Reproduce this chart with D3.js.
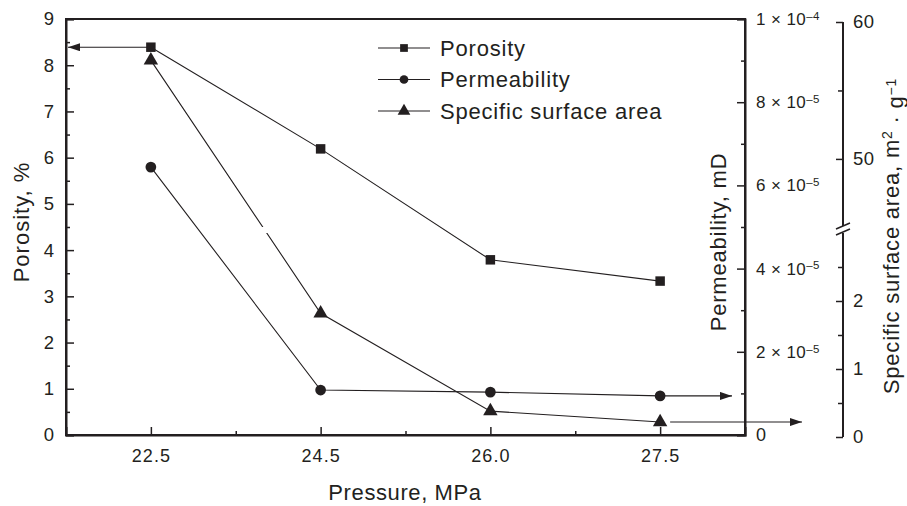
<!DOCTYPE html>
<html>
<head>
<meta charset="utf-8">
<script src="https://cdn.jsdelivr.net/npm/d3@7"></script>
<style>
  html, body { margin: 0; padding: 0; background: #fff; }
  svg { display: block; font-family: "Liberation Sans", Arial, Helvetica, sans-serif; }
</style>
</head>
<body>
<svg id="chart" width="907" height="506"></svg>
<script>
// ---------------- data ----------------
const pressures = ["22.5", "24.5", "26.0", "27.5"];
const porosity = [8.39, 6.19, 3.79, 3.33];
const permeability = [6.44e-5, 1.08e-5, 1.03e-5, 0.94e-5];
const surfaceArea = [57.2, 1.82, 0.38, 0.22];

const porosityTicks = [0, 1, 2, 3, 4, 5, 6, 7, 8, 9];
const porosityMinor = [0.5, 1.5, 2.5, 3.5, 4.5, 5.5, 6.5, 7.5, 8.5];
const permTicks = [0, 2e-5, 4e-5, 6e-5, 8e-5, 1e-4];
const permMinor = [1e-5, 3e-5, 5e-5, 7e-5, 9e-5];
const ssaLowTicks = [0, 1, 2];
const ssaLowMinor = [0.5, 1.5, 2.5];
const ssaHighTicks = [50, 60];
const ssaHighMinor = [55];
const legendLabels = ["Porosity", "Permeability", "Specific surface area"];

// ---------------- layout ----------------
const C = "#231f20";
const svg = d3.select("#chart");
const L = 66, R = 745, T = 19, B = 435;
const SSA_X = 843;

const x = d3.scaleLinear().domain([-0.5, 3.5]).range([L, R]);
const yP = d3.scaleLinear().domain([0, 9]).range([B, T]);
const yK = d3.scaleLinear().domain([0, 1e-4]).range([B, T]);
const ssaLowScale = d3.scaleLinear().domain([0, 3]).range([437, 233]);
const ssaHighScale = d3.scaleLinear().domain([45.1, 60]).range([226, 22]);
const yS = v => v >= 45.1 ? ssaHighScale(v) : ssaLowScale(v);

const defs = svg.append("defs");
defs.append("marker").attr("id", "arrow")
  .attr("viewBox", "0 0 12 8").attr("refX", 12).attr("refY", 4)
  .attr("markerWidth", 12).attr("markerHeight", 8)
  .attr("markerUnits", "userSpaceOnUse").attr("orient", "auto")
  .append("path").attr("d", "M0,0 L12,4 L0,8 Z").attr("fill", C);

// clip for SSA line break
const clip = defs.append("clipPath").attr("id", "ssaClip");
clip.append("rect").attr("x", 0).attr("y", 0).attr("width", 907).attr("height", 227);
clip.append("rect").attr("x", 0).attr("y", 233).attr("width", 907).attr("height", 300);

function styleAxis(g, fs, ls) {
  g.selectAll(".domain").attr("stroke", C).attr("stroke-width", 2);
  g.selectAll(".tick line").attr("stroke", C).attr("stroke-width", 1.5);
  g.selectAll(".tick text").attr("fill", C).attr("font-size", fs)
    .attr("letter-spacing", ls || 0)
    .attr("font-family", "Liberation Sans, Arial, sans-serif");
}

// ---------------- frame ----------------
svg.append("rect").attr("x", L).attr("y", T).attr("width", R - L).attr("height", B - T)
  .attr("fill", "none").attr("stroke", C).attr("stroke-width", 2);

// left axis
const gL = svg.append("g").attr("transform", `translate(${L},0)`)
  .call(d3.axisLeft(yP).tickValues(porosityTicks).tickSize(-8).tickPadding(12).tickFormat(d3.format("d")));
styleAxis(gL, 18.5);
const gLm = svg.append("g").attr("transform", `translate(${L},0)`)
  .call(d3.axisLeft(yP).tickValues(porosityMinor).tickSize(-4).tickFormat(""));
styleAxis(gLm, 18); gLm.select(".domain").remove();

// bottom axis
const gB = svg.append("g").attr("transform", `translate(0,${B})`)
  .call(d3.axisBottom(x).tickValues([0, 1, 2, 3]).tickSize(-8).tickPadding(14).tickFormat(i => pressures[i]));
styleAxis(gB, 18, 1);
const gBm = svg.append("g").attr("transform", `translate(0,${B})`)
  .call(d3.axisBottom(x).tickValues([0.5, 1.5, 2.5]).tickSize(-4).tickFormat(""));
styleAxis(gBm, 18); gBm.select(".domain").remove();

// right permeability axis
const gK = svg.append("g").attr("transform", `translate(${R},0)`)
  .call(d3.axisRight(yK).tickValues(permTicks).tickSize(-8).tickPadding(11));
styleAxis(gK, 17, 0.4);
gK.selectAll(".tick text").each(function (d) {
  const t = d3.select(this).text(null);
  if (d === 0) { t.append("tspan").attr("font-size", 18).text("0"); return; }
  const e = Math.floor(Math.log10(d) + 1e-9);
  const m = Math.round(d / Math.pow(10, e));
  t.append("tspan").text(m + " \u00d7 10");
  t.append("tspan").attr("dy", "-0.45em").attr("font-size", 11.5).text("\u2013" + (-e));
});
const gKm = svg.append("g").attr("transform", `translate(${R},0)`)
  .call(d3.axisRight(yK).tickValues(permMinor).tickSize(-4).tickFormat(""));
styleAxis(gKm, 16); gKm.select(".domain").remove();

// SSA broken axis
function ssaAxis(scale, ticks, minor) {
  const g = svg.append("g").attr("transform", `translate(${SSA_X},0)`)
    .call(d3.axisRight(scale).tickValues(ticks).tickSize(-7).tickPadding(10).tickFormat(d3.format("d")));
  styleAxis(g, 18.5, 0.5);
  g.select(".domain").attr("d", `M0,${scale.range()[0]}V${scale.range()[1]}`);
  const gm = svg.append("g").attr("transform", `translate(${SSA_X},0)`)
    .call(d3.axisRight(scale).tickValues(minor).tickSize(-5).tickFormat(""));
  styleAxis(gm, 18); gm.select(".domain").remove();
}
ssaAxis(ssaLowScale, ssaLowTicks, ssaLowMinor);
ssaAxis(ssaHighScale, ssaHighTicks, ssaHighMinor);
[226, 232].forEach(yy => {
  svg.append("line").attr("x1", SSA_X - 7).attr("y1", yy + 3).attr("x2", SSA_X + 7).attr("y2", yy - 3)
    .attr("stroke", C).attr("stroke-width", 1.5);
});

// ---------------- series ----------------
const idx = d3.range(pressures.length);
const lineStyle = sel => sel.attr("fill", "none").attr("stroke", C).attr("stroke-width", 1.1);

svg.append("path").datum(idx).call(lineStyle)
  .attr("d", d3.line().x(i => x(i)).y(i => yP(porosity[i])));
svg.append("path").datum(idx).call(lineStyle)
  .attr("d", d3.line().x(i => x(i)).y(i => yK(permeability[i])));
svg.append("path").datum(idx).call(lineStyle).attr("clip-path", "url(#ssaClip)")
  .attr("d", d3.line().x(i => x(i)).y(i => yS(surfaceArea[i])));

// arrows
svg.append("line").attr("x1", x(0)).attr("y1", yP(porosity[0])).attr("x2", L + 2).attr("y2", yP(porosity[0]))
  .attr("stroke", C).attr("stroke-width", 1.1).attr("marker-end", "url(#arrow)");
svg.append("line").attr("x1", x(3)).attr("y1", yK(permeability[3])).attr("x2", R - 13).attr("y2", yK(permeability[3]))
  .attr("stroke", C).attr("stroke-width", 1.1).attr("marker-end", "url(#arrow)");
svg.append("line").attr("x1", x(3) + 10).attr("y1", yS(surfaceArea[3])).attr("x2", 802).attr("y2", yS(surfaceArea[3]))
  .attr("stroke", C).attr("stroke-width", 1.1).attr("marker-end", "url(#arrow)");

const sq = d3.symbol().type(d3.symbolSquare).size(90);
const ci = d3.symbol().type(d3.symbolCircle).size(90);
const tr = d3.symbol().type(d3.symbolTriangle).size(90);

svg.append("g").selectAll("path").data(idx).join("path")
  .attr("d", sq).attr("fill", C).attr("transform", i => `translate(${x(i)},${yP(porosity[i])})`);
svg.append("g").selectAll("path").data(idx).join("path")
  .attr("d", ci).attr("fill", C).attr("transform", i => `translate(${x(i)},${yK(permeability[i])})`);
svg.append("g").selectAll("path").data(idx).join("path")
  .attr("d", tr).attr("fill", C).attr("transform", i => `translate(${x(i)},${yS(surfaceArea[i])})`);

// ---------------- legend ----------------
const legSyms = [
  d3.symbol().type(d3.symbolSquare).size(60),
  d3.symbol().type(d3.symbolCircle).size(60),
  d3.symbol().type(d3.symbolTriangle).size(70)
];
legendLabels.forEach((lab, k) => {
  const yy = 48 + k * 31.5;
  svg.append("line").attr("x1", 378).attr("x2", 430).attr("y1", yy).attr("y2", yy)
    .attr("stroke", C).attr("stroke-width", 1.1);
  svg.append("path").attr("d", legSyms[k]).attr("fill", C).attr("transform", `translate(404,${yy})`);
  svg.append("text").attr("x", 440).attr("y", yy + 7.5).attr("font-size", 22)
    .attr("letter-spacing", 0.8).attr("fill", C).text(lab);
});

// ---------------- titles ----------------
svg.append("text").attr("x", 405).attr("y", 500).attr("text-anchor", "middle")
  .attr("font-size", 22).attr("letter-spacing", 0.6).attr("fill", C).text("Pressure, MPa");
svg.append("text").attr("transform", "translate(29,222) rotate(-90)").attr("text-anchor", "middle")
  .attr("font-size", 22).attr("letter-spacing", 1).attr("fill", C).text("Porosity, %");
svg.append("text").attr("transform", "translate(726,242) rotate(-90)").attr("text-anchor", "middle")
  .attr("font-size", 22).attr("letter-spacing", 0.8).attr("fill", C).text("Permeability, mD");
const st = svg.append("text").attr("transform", "translate(899,236) rotate(-90)").attr("text-anchor", "middle")
  .attr("font-size", 22).attr("letter-spacing", 0.8).attr("fill", C);
st.append("tspan").text("Specific surface area, m");
st.append("tspan").attr("dy", "-0.5em").attr("font-size", 14).text("2");
st.append("tspan").attr("dy", "0.5em").text(" \u00b7 g");
st.append("tspan").attr("dy", "-0.5em").attr("font-size", 14).text("\u22121");
</script>
</body>
</html>
